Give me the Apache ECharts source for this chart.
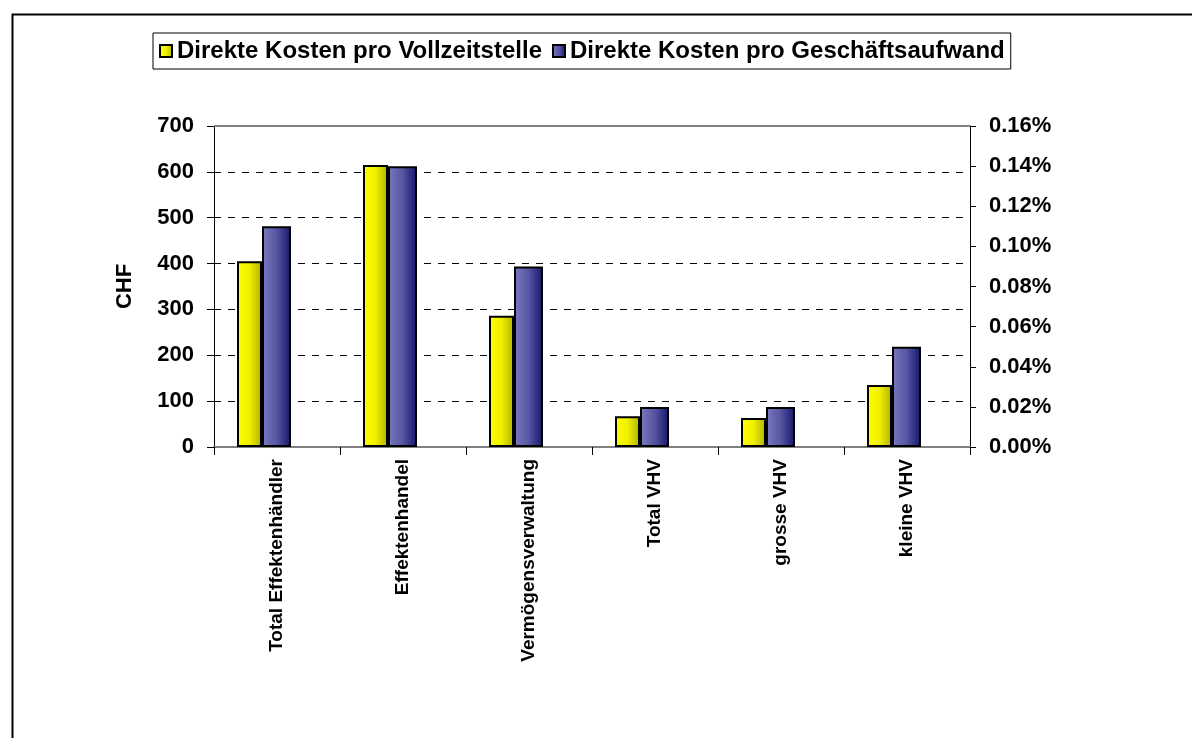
<!DOCTYPE html>
<html>
<head>
<meta charset="utf-8">
<script src="https://cdn.jsdelivr.net/npm/echarts@6/dist/echarts.min.js"></script>
<style>
html,body{margin:0;padding:0;background:#fff;}
#chart{width:1192px;height:738px;}
</style>
</head>
<body>
<div id="chart"></div>
<script>
const categories = ['Total Effektenhändler', 'Effektenhandel', 'Vermögensverwaltung', 'Total VHV', 'grosse VHV', 'kleine VHV'];
const kostenProVollzeitstelle = [405, 615, 286, 67, 63, 135];          // CHF, left axis
const kostenProGeschaeftsaufwand = [0.110, 0.140, 0.090, 0.020, 0.020, 0.050]; // %, right axis
const seriesNames = ['Direkte Kosten pro Vollzeitstelle', 'Direkte Kosten pro Geschäftsaufwand'];
const leftAxisName = 'CHF';

const FONT = '"Liberation Sans", Arial, sans-serif';
const chart = echarts.init(document.getElementById('chart'), null, {renderer: 'canvas'});

const yellowGrad = new echarts.graphic.LinearGradient(0, 0, 1, 0, [
  {offset: 0, color: '#ffff00'}, {offset: 0.5, color: '#f0f000'}, {offset: 1, color: '#b0b000'}
]);
const blueGrad = new echarts.graphic.LinearGradient(0, 0, 1, 0, [
  {offset: 0, color: '#7a7ac0'}, {offset: 0.5, color: '#5656a2'}, {offset: 1, color: '#14146c'}
]);

chart.setOption({
  animation: false,
  backgroundColor: '#ffffff',
  textStyle: {fontFamily: FONT},
  legend: {
    data: seriesNames,
    left: 153, top: 33,
    orient: 'horizontal',
    itemWidth: 12, itemHeight: 12, itemGap: 10,
    padding: [6, 6, 6, 6],
    borderColor: '#000', borderWidth: 1,
    textStyle: {fontFamily: FONT, fontWeight: 'bold', fontSize: 24, color: '#000'},
    icon: 'rect'
  },
  grid: {left: 214, right: 222, top: 126, bottom: 291, containLabel: false, show: false},
  xAxis: {
    type: 'category',
    data: categories,
    axisLine: {show: true, lineStyle: {color: '#808080', width: 2}},
    axisTick: {show: true, length: 8, lineStyle: {color: '#000', width: 1}},
    axisLabel: {rotate: 90, interval: 0, margin: 12, fontFamily: FONT, fontWeight: 'bold', fontSize: 19, color: '#000'},
    splitLine: {show: false}
  },
  yAxis: [{
    type: 'value', min: 0, max: 700, interval: 100,
    name: leftAxisName, nameLocation: 'middle', nameRotate: 90, nameGap: 78,
    nameTextStyle: {fontFamily: FONT, fontWeight: 'bold', fontSize: 22, color: '#000'},
    axisLine: {show: true, lineStyle: {color: '#000', width: 1}},
    axisTick: {show: true, length: 7, lineStyle: {color: '#000'}},
    axisLabel: {margin: 20, fontFamily: FONT, fontWeight: 'bold', fontSize: 22, color: '#000'},
    splitLine: {show: true, lineStyle: {color: '#000', type: [7, 7], width: 1}}
  }, {
    type: 'value', min: 0, max: 0.16, interval: 0.02,
    position: 'right',
    axisLine: {show: true, lineStyle: {color: '#000', width: 1}},
    axisTick: {show: true, length: 6, inside: false, lineStyle: {color: '#000'}},
    axisLabel: {margin: 19, fontFamily: FONT, fontWeight: 'bold', fontSize: 22, color: '#000',
                formatter: v => v.toFixed(2) + '%'},
    splitLine: {show: false}
  }],
  series: [{
    name: seriesNames[0], type: 'bar', yAxisIndex: 0,
    data: kostenProVollzeitstelle,
    barWidth: 25, barGap: '0%',
    itemStyle: {color: yellowGrad, borderColor: '#000', borderWidth: 2}
  }, {
    name: seriesNames[1], type: 'bar', yAxisIndex: 1,
    data: kostenProGeschaeftsaufwand,
    barWidth: 29, barGap: '0%',
    itemStyle: {color: blueGrad, borderColor: '#000', borderWidth: 2}
  }, {
    name: '_spacer', type: 'bar', yAxisIndex: 0,
    data: categories.map(() => null),
    barWidth: 26, barGap: '0%', silent: true,
    itemStyle: {color: 'transparent'}
  }]
});
// plot-area top border (gray) and outer frame
const plotTopY = chart.convertToPixel({yAxisIndex: 0}, 700);
chart.setOption({graphic: [{
    type: 'rect', left: 10, top: 12, silent: true,
    shape: {x: 0, y: 0, width: 1300, height: 900},
    style: {fill: 'none', stroke: '#000', lineWidth: 2}
  }, {
    type: 'line', silent: true, z: 10,
    shape: {x1: 214, y1: plotTopY, x2: 970, y2: plotTopY},
    style: {stroke: '#808080', lineWidth: 2}
  }]});
</script>
</body>
</html>
